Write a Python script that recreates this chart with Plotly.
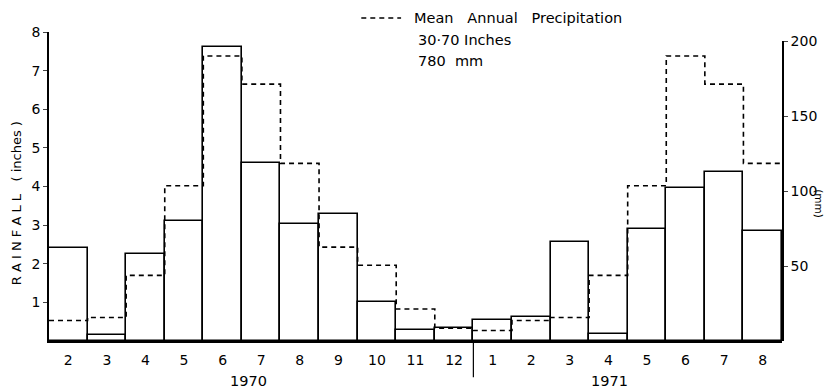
import numpy as np
import plotly.graph_objects as go

# ---- data ----
months_1970 = ["2", "3", "4", "5", "6", "7", "8", "9", "10", "11", "12"]
months_1971 = ["1", "2", "3", "4", "5", "6", "7", "8"]
rain_1970 = [2.42, 0.15, 2.24, 3.11, 7.61, 4.62, 3.02, 3.30, 1.00, 0.29, 0.33]
rain_1971 = [0.54, 0.62, 2.56, 0.18, 2.89, 3.97, 4.37, 2.85]
# mean monthly precipitation (inches), Jan..Dec
mean_monthly = [0.27, 0.53, 0.61, 1.70, 4.02, 7.38, 6.65, 4.60, 2.43, 1.96, 0.83, 0.33]
inch_ticks = [1, 2, 3, 4, 5, 6, 7, 8]
mm_ticks = [50, 100, 150, 200]

labels = months_1970 + months_1971
rain = rain_1970 + rain_1971
n = len(labels)
xpos = np.arange(n)
means = [mean_monthly[int(m) - 1] for m in labels]

# step outline of mean: at bar edges
edges = np.arange(n + 1) - 0.5
step_y = means + [means[-1]]

FONT = "DejaVu Sans"
fig = go.Figure()
fig.add_trace(go.Bar(
    x=xpos, y=rain, width=1.0,
    marker=dict(color="white", line=dict(color="black", width=1.6)),
    hoverinfo="skip", showlegend=False,
))
fig.add_trace(go.Scatter(
    x=edges, y=step_y, mode="lines", line_shape="hv",
    line=dict(color="black", width=1.6, dash="5px,4px"),
    hoverinfo="skip", showlegend=False,
))
# invisible trace to bind right axis
fig.add_trace(go.Scatter(
    x=xpos, y=[r * 25.4 for r in rain], yaxis="y2", mode="markers",
    marker=dict(opacity=0), hoverinfo="skip", showlegend=False,
))

split = len(months_1970) - 0.5
fig.add_shape(type="line", xref="x", yref="paper", x0=split, x1=split,
              y0=0, y1=-0.117, line=dict(color="black", width=1.2))


def px2x(p):
    return (p - 49) / 737


def py2y(p):
    return (341 - p) / 309


# legend sample
fig.add_shape(type="line", xref="paper", yref="paper",
              x0=px2x(363), x1=px2x(403), y0=py2y(18), y1=py2y(18),
              line=dict(color="black", width=1.6, dash="5px,4px"))

ann = []
ann.append(dict(x=px2x(414), y=py2y(18), xref="paper", yref="paper",
                text="Mean   Annual   Precipitation", showarrow=False,
                xanchor="left", yanchor="middle", font=dict(size=14.5)))
ann.append(dict(x=px2x(418), y=py2y(40), xref="paper", yref="paper",
                text="30·70 Inches", showarrow=False,
                xanchor="left", yanchor="middle", font=dict(size=14.5)))
ann.append(dict(x=px2x(418), y=py2y(61), xref="paper", yref="paper",
                text="780  mm", showarrow=False,
                xanchor="left", yanchor="middle", font=dict(size=14.5)))
ann.append(dict(x=px2x(250), y=py2y(381), xref="paper", yref="paper",
                text="1970", showarrow=False, xanchor="center",
                yanchor="middle", font=dict(size=14.5)))
ann.append(dict(x=px2x(613), y=py2y(381), xref="paper", yref="paper",
                text="1971", showarrow=False, xanchor="center",
                yanchor="middle", font=dict(size=14.5)))
ann.append(dict(x=px2x(16), y=py2y(203), xref="paper", yref="paper",
                text="R A I N F A L L   ( inches )", showarrow=False,
                xanchor="center", yanchor="middle",
                textangle=-90, font=dict(size=13)))
ann.append(dict(x=px2x(823), y=py2y(204), xref="paper", yref="paper",
                text="(mm)", showarrow=False, xanchor="center",
                yanchor="middle", textangle=90, font=dict(size=10.5)))

fig.update_layout(
    width=829, height=391,
    margin=dict(l=49, r=43, t=32, b=50),
    paper_bgcolor="white", plot_bgcolor="rgba(0,0,0,0)",
    font=dict(family=FONT, color="black", size=13),
    bargap=0,
    annotations=ann,
    xaxis=dict(range=[-0.5, n - 0.5], tickvals=list(xpos), ticktext=labels,
               showgrid=False, zeroline=False, showline=True,
               linecolor="black", linewidth=1.6, ticks="",
               ticklabelstandoff=5,
               tickfont=dict(size=14), fixedrange=True),
    yaxis=dict(range=[0, 8], tickvals=inch_ticks, showgrid=False,
               zeroline=False, showline=True, linecolor="black",
               linewidth=1.6, ticks="outside", ticklen=4, tickwidth=1.4,
               tickfont=dict(size=14), fixedrange=True),
    yaxis2=dict(range=[0, 200], domain=[0, 300 / 309], anchor="x",
                side="right", tickvals=mm_ticks, showgrid=False,
                zeroline=False, showline=True, linecolor="black",
                linewidth=1.6, ticks="outside", ticklen=4, tickwidth=1.4,
                tickfont=dict(size=14), fixedrange=True),
)

fig.write_html("out.html")
